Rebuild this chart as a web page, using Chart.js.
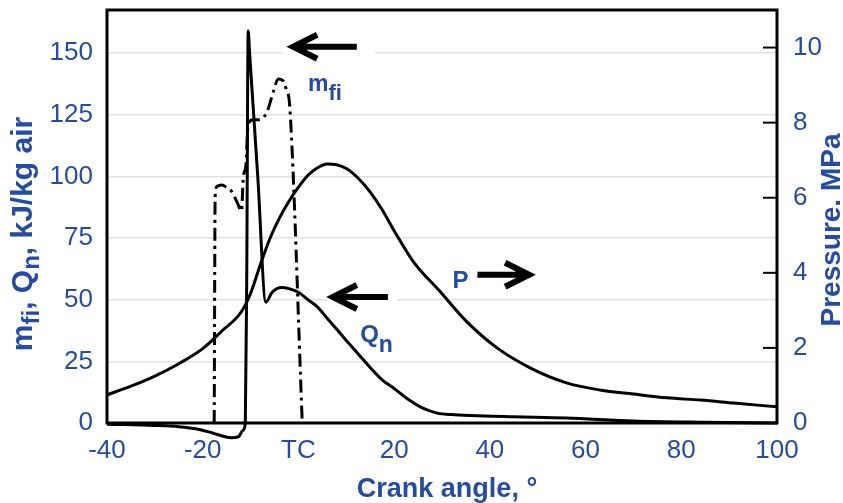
<!DOCTYPE html>
<html>
<head>
<meta charset="utf-8">
<script src="https://cdn.jsdelivr.net/npm/chart.js@4.4.0/dist/chart.umd.min.js"></script>
<style>
  html, body { margin: 0; padding: 0; background: #fff; }
  #wrap { width: 843px; height: 503px; }
</style>
</head>
<body>
<div id="wrap"><canvas id="grafico" width="843" height="503"></canvas></div>
<script>
// tick labels
const angleTicks = [-40, -20, 0, 20, 40, 60, 80, 100];
const energyTicks = [0, 25, 50, 75, 100, 125, 150];
const pressureTicks = [0, 2, 4, 6, 8, 10];

// cylinder pressure P, MPa (right axis)
const pAngle = [-40, -35, -30, -25, -20, -16, -12, -10, -8, -6, -4, -2, 0, 2, 4, 6, 8, 10, 12.5, 15, 17.5, 20, 24, 29.6, 35, 41.5, 48.4, 56, 63, 70, 77, 84, 91, 100];
const pValue = [0.75, 0.98, 1.25, 1.58, 1.98, 2.45, 2.95, 3.45, 4.2, 4.9, 5.45, 5.9, 6.28, 6.6, 6.8, 6.9, 6.88, 6.78, 6.52, 6.15, 5.68, 5.12, 4.3, 3.5, 2.72, 2.0, 1.47, 1.07, 0.88, 0.77, 0.67, 0.61, 0.53, 0.43];

// net heat release Qn, kJ/kg air
const qnAngle = [-40, -30, -25, -21, -18, -15.5, -14, -12.5, -11.6, -11.1, -10.8, -10.5, -10.2, -8.5, -6.8, -5.5, -3.5, -2, 0, 2, 4, 6, 8, 10, 12.5, 15, 17.5, 20, 23, 26, 29, 32, 36, 45, 56, 70, 84, 100];
const qnValue = [-0.5, -1, -1.5, -2.5, -4, -5.5, -6, -5.5, -3, 0, 60, 159, 150, 100, 49, 53, 55, 54.5, 53, 50, 47, 42.5, 38, 33.5, 28, 22.5, 17.5, 14, 9.5, 6, 4, 3.4, 3.0, 2.5, 2, 0.8, 0.3, 0];

// injected fuel mfi, kJ/kg air
const mfiAngle = [-17.6, -17.4, -17.0, -16.0, -15.0, -14.0, -12.8, -11.9, -11.5, -11.0, -10.5, -9.5, -8.5, -6.6, -5.3, -4.2, -3.3, -2.5, -1.8, 0.8];
const mfiValue = [0, 92, 96, 96.5, 95.5, 94, 89.5, 86, 100, 104, 121, 123, 123, 126, 134, 139.5, 139, 135, 128, 0];

const blue = '#244ca6';
const fam = "'Liberation Sans', Arial, sans-serif";
Chart.defaults.font.family = fam;

const pts = (xs, ys) => xs.map((x, i) => ({ x: x, y: ys[i] }));

function arrow(ctx, tip, tail, y) {
  const dir = Math.sign(tail - tip);
  ctx.beginPath();
  ctx.moveTo(tail, y);
  ctx.lineTo(tip + dir * 3, y);
  ctx.moveTo(tip + dir * 24, y - 12);
  ctx.lineTo(tip, y);
  ctx.lineTo(tip + dir * 24, y + 12);
  ctx.stroke();
}

function richText(ctx, parts, x, y, size, subSize, drop) {
  let cx = x;
  parts.forEach(p => {
    ctx.font = 'bold ' + (p[1] ? subSize : size) + 'px ' + fam;
    ctx.fillText(p[0], cx, y + (p[1] ? drop : 0));
    cx += ctx.measureText(p[0]).width;
  });
  return cx - x;
}

function richWidth(ctx, parts, size, subSize) {
  let w = 0;
  parts.forEach(p => {
    ctx.font = 'bold ' + (p[1] ? subSize : size) + 'px ' + fam;
    w += ctx.measureText(p[0]).width;
  });
  return w;
}

// fixed box sizes so the plot area is 107..777 x 10..423
const fixBox = (w, h) => s => {
  if (w) s.width = w;
  if (h) s.height = h;
  s.paddingTop = 0;
  s.paddingBottom = 0;
  s.paddingLeft = 0;
  s.paddingRight = 0;
};

const decor = {
  id: 'decor',
  beforeDatasetsDraw(chart) {
    const { ctx, scales: { x, y } } = chart;
    // white gaps behind the arrows on the gridlines
    ctx.save();
    ctx.fillStyle = '#fff';
    ctx.fillRect(x.getPixelForValue(-3.4), y.getPixelForValue(150) - 4, x.getPixelForValue(16) - x.getPixelForValue(-3.4), 8);
    ctx.fillRect(x.getPixelForValue(6.1), y.getPixelForValue(50) - 4, x.getPixelForValue(20.6) - x.getPixelForValue(6.1), 8);
    ctx.restore();
  },
  afterDraw(chart) {
    const { ctx, chartArea: a, scales: { x, y, y1 } } = chart;
    ctx.save();
    // frame
    ctx.strokeStyle = '#000';
    ctx.lineWidth = 3;
    ctx.strokeRect(a.left, a.top, a.right - a.left, a.bottom - a.top);
    // inward ticks on the pressure axis
    ctx.lineWidth = 2;
    pressureTicks.slice(1).forEach(v => {
      const py = y1.getPixelForValue(v);
      ctx.beginPath();
      ctx.moveTo(a.right, py);
      ctx.lineTo(a.right - 14, py);
      ctx.stroke();
    });
    // arrows
    ctx.lineWidth = 6;
    ctx.lineJoin = 'miter';
    arrow(ctx, x.getPixelForValue(-1.1), x.getPixelForValue(12.2), y.getPixelForValue(152.6));
    arrow(ctx, x.getPixelForValue(7.2), x.getPixelForValue(18.7), y.getPixelForValue(51.1));
    arrow(ctx, x.getPixelForValue(48.2), x.getPixelForValue(37.4), y1.getPixelForValue(3.95));
    // curve labels
    ctx.fillStyle = blue;
    ctx.textBaseline = 'alphabetic';
    ctx.textAlign = 'left';
    richText(ctx, [['m', 0], ['fi', 1]], x.getPixelForValue(2.0), y.getPixelForValue(134.5), 23, 22, 9);
    richText(ctx, [['Q', 0], ['n', 1]], x.getPixelForValue(12.9), y.getPixelForValue(33), 24, 23, 10);
    richText(ctx, [['P', 0]], x.getPixelForValue(32.2), y1.getPixelForValue(3.6), 24, 24, 0);
    // x title
    ctx.textAlign = 'center';
    ctx.font = 'bold 27px ' + fam;
    ctx.fillText('Crank angle, \u00b0', 447, 497);
    // right title
    ctx.save();
    ctx.translate(840, 230);
    ctx.rotate(-Math.PI / 2);
    ctx.font = 'bold 28px ' + fam;
    ctx.fillText('Pressure. MPa', 0, 0);
    ctx.restore();
    // left title
    const leftParts = [['m', 0], ['fi', 1], [', Q', 0], ['n', 1], [', kJ/kg air', 0]];
    ctx.save();
    ctx.translate(32, 234);
    ctx.rotate(-Math.PI / 2);
    ctx.textAlign = 'left';
    const w = richWidth(ctx, leftParts, 30, 24);
    richText(ctx, leftParts, -w / 2, 0, 30, 24, 7);
    ctx.restore();
    ctx.restore();
  }
};

const ctx = document.getElementById('grafico').getContext('2d');
new Chart(ctx, {
  type: 'line',
  data: {
    datasets: [
      {
        label: 'P',
        data: pts(pAngle, pValue),
        yAxisID: 'y1',
        borderColor: '#000',
        borderWidth: 3,
        pointRadius: 0,
        cubicInterpolationMode: 'monotone'
      },
      {
        label: 'Qn',
        data: pts(qnAngle, qnValue),
        yAxisID: 'y',
        borderColor: '#000',
        borderWidth: 3,
        pointRadius: 0,
        clip: false,
        cubicInterpolationMode: 'monotone'
      },
      {
        label: 'mfi',
        data: pts(mfiAngle, mfiValue),
        yAxisID: 'y',
        borderColor: '#000',
        borderWidth: 3,
        borderDash: [13, 5, 3, 5],
        pointRadius: 0,
        cubicInterpolationMode: 'monotone'
      }
    ]
  },
  options: {
    responsive: false,
    animation: false,
    devicePixelRatio: 1,
    layout: { padding: { top: 10, left: 0, right: 0, bottom: 0 } },
    plugins: {
      legend: { display: false },
      tooltip: { enabled: false }
    },
    scales: {
      x: {
        type: 'linear',
        min: -40,
        max: 100,
        afterBuildTicks: s => { s.ticks = angleTicks.map(v => ({ value: v })); },
        afterFit: fixBox(0, 80),
        grid: { display: false, drawTicks: false },
        border: { display: false },
        ticks: {
          color: blue,
          font: { size: 26 },
          padding: 12,
          maxRotation: 0,
          autoSkip: false,
          callback: v => v === 0 ? 'TC' : v
        }
      },
      y: {
        position: 'left',
        min: 0,
        max: 167.5,
        afterBuildTicks: s => { s.ticks = energyTicks.map(v => ({ value: v })); },
        afterFit: fixBox(107, 0),
        grid: { color: '#e2e2e2', lineWidth: 1.5, drawTicks: false },
        border: { display: false },
        ticks: { color: blue, font: { size: 26 }, padding: 14 }
      },
      y1: {
        position: 'right',
        min: 0,
        max: 11,
        afterBuildTicks: s => { s.ticks = pressureTicks.map(v => ({ value: v })); },
        afterFit: fixBox(66, 0),
        grid: { drawOnChartArea: false, drawTicks: false },
        border: { display: false },
        ticks: { color: blue, font: { size: 26 }, padding: 16 }
      }
    }
  },
  plugins: [decor]
});
</script>
</body>
</html>
